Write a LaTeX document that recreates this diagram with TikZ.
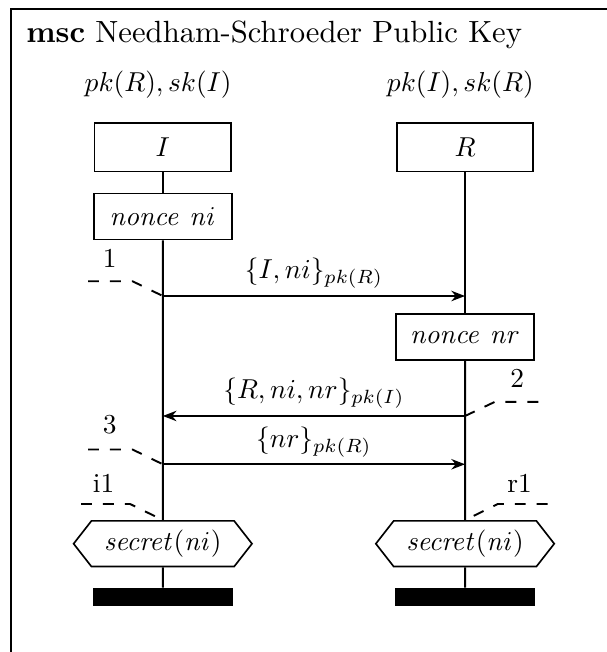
\documentclass[tikz,border=0pt]{standalone}
\usetikzlibrary{arrows.meta, shapes.symbols}

\begin{document}
\begin{tikzpicture}

\useasboundingbox (-2.09,-6.48) rectangle (5.69,1.89);

% frame, cut at the right and bottom
\draw[line width=0.8pt] (-1.95,-6.7) |- (5.9,1.77);
\node (title) at (-1.76,1.35) [anchor=base west,inner sep=0pt,scale=1.12] {\textbf{msc} Needham-Schroeder Public Key};

\begin{scope}[every node/.style={draw,rectangle,line width=0.6pt,fill=white}]
    \node (i) at (0, 0) [minimum width=1.75cm,minimum height=0.62cm] {$I$};
    \node (r) at (3.88, 0) [minimum width=1.75cm,minimum height=0.62cm] {$R$};

    \node (inonce) at (0, -0.89) [minimum width=1.77cm,minimum height=0.59cm] {$\mathit{nonce}\ \mathit{ni}$};
    \node (rnonce) at (3.88, -2.44) [minimum width=1.77cm,minimum height=0.59cm] {$\mathit{nonce}\ \mathit{nr}$};

    \node (isec) at (0, -5.09) [shape=signal,signal to=west and east,signal pointer angle=104,
        minimum width=2.29cm,minimum height=0.58cm,inner xsep=1pt] {$\mathit{secret}(\mathit{ni})$};
    \node (rsec) at (3.88, -5.09) [shape=signal,signal to=west and east,signal pointer angle=104,
        minimum width=2.29cm,minimum height=0.58cm,inner xsep=1pt] {$\mathit{secret}(\mathit{ni})$};

    \node (iend) at (0, -5.77) [fill=black,minimum width=1.77cm,minimum height=0.21cm,inner sep=0pt] {};
    \node (rend) at (3.88, -5.77) [fill=black,minimum width=1.77cm,minimum height=0.21cm,inner sep=0pt] {};
\end{scope}

\begin{scope}[every node/.style={inner sep=0pt}]
    \node (ikeys) at (-0.06, 0.80) {$pk(R), sk(I)$};
    \node (rkeys) at (3.82, 0.80) {$pk(I), sk(R)$};

    \node (l1) at (-0.68, -1.43) {1};
    \node (l2) at (4.55, -2.97) {2};
    \node (l3) at (-0.68, -3.56) {3};
    \node (li1) at (-0.76, -4.31) {i1};
    \node (lr1) at (4.58, -4.31) {r1};
\end{scope}

% points on the lifelines
\coordinate (m1i) at (0, -1.91);
\coordinate (m1r) at (3.88, -1.91);
\coordinate (m2r) at (3.88, -3.45);
\coordinate (m2i) at (0, -3.45);
\coordinate (m3i) at (0, -4.07);
\coordinate (m3r) at (3.88, -4.07);

% label lines
\coordinate (d1a) at (-0.96, -1.72);
\coordinate (d1b) at (-0.39, -1.72);
\coordinate (d2a) at (4.82, -3.27);
\coordinate (d2b) at (4.26, -3.27);
\coordinate (d3a) at (-0.96, -3.88);
\coordinate (d3b) at (-0.39, -3.88);
\coordinate (di1a) at (-1.05, -4.58);
\coordinate (di1b) at (-0.42, -4.58);
\coordinate (dr1a) at (4.94, -4.58);
\coordinate (dr1b) at (4.30, -4.58);

\begin{scope}[line width=0.7pt]
    \draw (i) -- (inonce);
    \draw (inonce) -- (isec);
    \draw (isec) -- (iend);
    \draw (r) -- (rnonce);
    \draw (rnonce) -- (rsec);
    \draw (rsec) -- (rend);
\end{scope}

\begin{scope}[>={Stealth[length=5pt,width=3.8pt,inset=1.6pt]}, line width=0.7pt]
    \path [->] (m1i) edge node [above,yshift=-1pt] {$\{I, ni\}_{pk(R)}$} (m1r);
    \path [->] (m2r) edge node [above,yshift=-1pt] {$\{R, ni, nr\}_{pk(I)}$} (m2i);
    \path [->] (m3i) edge node [above,yshift=-1pt] {$\{nr\}_{pk(R)}$} (m3r);
\end{scope}

\begin{scope}[dash pattern=on 4pt off 4pt, line width=0.7pt]
    \draw (d1a) -- (d1b) -- (m1i);
    \draw (d2a) -- (d2b) -- (m2r);
    \draw (d3a) -- (d3b) -- (m3i);
    \draw (di1a) -- (di1b) -- (isec.north);
    \draw (dr1a) -- (dr1b) -- (rsec.north);
\end{scope}
\end{tikzpicture}
\end{document}
